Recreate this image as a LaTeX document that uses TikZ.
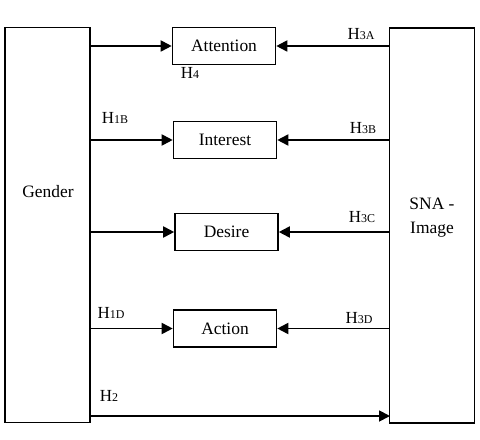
\documentclass[tikz,border=0pt]{standalone}
\usepackage{fontspec}
\setmainfont{Liberation Serif}
\usetikzlibrary{arrows.meta}
\begin{document}
\begin{tikzpicture}[x=1bp,y=-1bp,
  bigbox/.style={draw,line width=1.6bp,minimum width=85bp,minimum height=395bp,inner sep=0pt},
  midbox/.style={draw,line width=1.6bp,minimum width=103bp,minimum height=37bp,inner sep=0pt,font=\fontsize{17.5}{20}\selectfont},
  conn/.style={line width=1.8bp,-{Triangle[length=11bp,width=11bp]}},
  hlab/.style={font=\fontsize{17}{18}\selectfont,inner sep=0pt},
  txt/.style={font=\fontsize{17.5}{24}\selectfont,align=center}]
\useasboundingbox (0,0) rectangle (480,440);
\node[bigbox] (gender) at (47.5,225) {};
\node[bigbox] (sna) at (432,225.5) {};
\node[txt] (gtext) at (48,192) {Gender};
\node[txt] (stext) at (432,218) {SNA -\\Image};
\node[midbox] (attn) at (224,46) {Attention};
\node[midbox] (intr) at (225,140) {Interest};
\node[midbox] (des) at (226.5,232) {Desire};
\node[midbox] (act) at (225,328.5) {Action};
\coordinate (h2end) at (390,416);
\draw[conn] (gender.east |- attn) -- (attn.west);
\draw[conn] (gender.east |- intr) -- (intr.west);
\draw[conn] (gender.east |- des) -- (des.west);
\draw[conn] (gender.east |- act) -- (act.west);
\draw[conn] (sna.west |- attn) -- (attn.east);
\draw[conn] (sna.west |- intr) -- (intr.east);
\draw[conn] (sna.west |- des) -- (des.east);
\draw[conn] (sna.west |- act) -- (act.east);
\draw[conn] (gender.east |- h2end) -- (h2end);
\node[hlab] (l4) at (190,73) {H{\fontsize{12}{12}\selectfont 4}};
\node[hlab] (l3a) at (361,34) {H{\fontsize{12}{12}\selectfont 3A}};
\node[hlab] (l1b) at (115,118) {H{\fontsize{12}{12}\selectfont 1B}};
\node[hlab] (l3b) at (363,128) {H{\fontsize{12}{12}\selectfont 3B}};
\node[hlab] (l3c) at (362,217) {H{\fontsize{12}{12}\selectfont 3C}};
\node[hlab] (l1d) at (111,313) {H{\fontsize{12}{12}\selectfont 1D}};
\node[hlab] (l3d) at (359,318) {H{\fontsize{12}{12}\selectfont 3D}};
\node[hlab] (l2) at (109,396) {H{\fontsize{12}{12}\selectfont 2}};
\end{tikzpicture}
\end{document}
